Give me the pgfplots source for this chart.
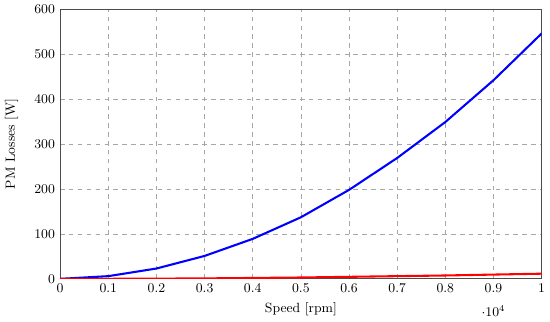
\documentclass[border=0pt]{standalone}
\usepackage{pgfplots}
\pgfplotsset{compat=1.18}
\begin{document}
\begin{tikzpicture}
\begin{axis}[
  scale only axis,
  width=325pt, height=182pt,
  xmin=0, xmax=10000, ymin=0, ymax=600,
  xtick={0,1000,...,10000},
  ytick={0,100,...,600},
  scaled x ticks=base 10:-4,
  xlabel={Speed [rpm]},
  ylabel={PM Losses [W]},
  grid=major,
  grid style={dashed, gray!70, line width=0.5pt},
  axis line style={black!70, line width=0.8pt},
  tick style={draw=none},
  tick label style={font=\small},
  label style={font=\small},
  ylabel style={yshift=4pt},
]
\addplot[blue, line width=1.4pt] coordinates {
(0,0) (1000,6) (2000,23) (3000,51) (4000,89) (5000,137) (6000,198) (7000,269) (8000,349) (9000,442) (10000,546)};
\addplot[red, line width=1.4pt] coordinates {
(0,0) (1000,0.1) (2000,0.5) (3000,1) (4000,2) (5000,3) (6000,4.5) (7000,6) (8000,7.5) (9000,9.5) (10000,11.5)};
\end{axis}
\end{tikzpicture}
\end{document}
